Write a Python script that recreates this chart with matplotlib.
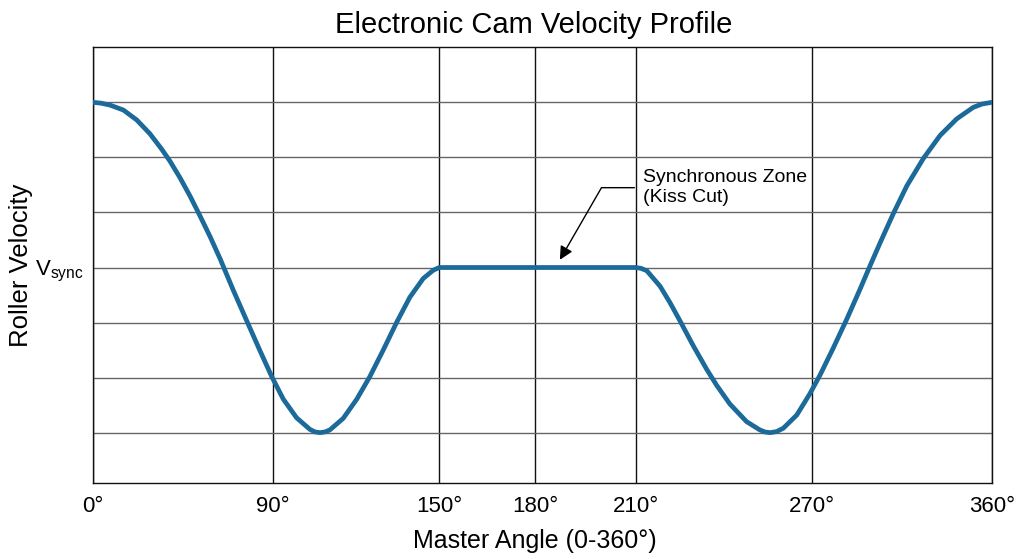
import numpy as np
import matplotlib
matplotlib.use('Agg')
import matplotlib.pyplot as plt

plt.rcParams['font.family'] = ['Liberation Sans', 'DejaVu Sans']
plt.rcParams['mathtext.fontset'] = 'custom'
plt.rcParams['mathtext.rm'] = 'Liberation Sans'

# curve (degrees, velocity in grid steps, Vsync = 3)
master_angle = [0, 3.9, 8.4, 15.1, 21.8, 28.4, 34.3, 38.5, 43.5, 48.5,
                53.5, 58.6, 63.6, 70.2, 77.0, 83.6, 89.5, 93.8, 98.6, 103.4,
                105.2, 107.0, 108.8, 110.6, 115.4, 120.3, 125.0, 129.8, 134.6, 139.4,
                144.2, 147.8, 150, 180, 210, 211.8, 213.8, 218.3, 221.7, 225.1, 229.6,
                234.2, 237.6, 242.1, 247.8, 252.3, 254.1, 255.8, 258.0, 260.3, 264.9,
                269.4, 274.2, 280.8, 287.5, 294.2, 298.3, 304.2, 310.8, 317.5, 325.8,
                334.2, 342.5, 350.8, 355.2, 360]
roller_velocity = [6.0, 5.985, 5.95, 5.86, 5.68, 5.43, 5.15, 4.93, 4.63, 4.30,
                   3.94, 3.56, 3.16, 2.59, 2.03, 1.49, 1.02, 0.61, 0.27, 0.06,
                   0.014, 0.0, 0.013, 0.05, 0.26, 0.61, 1.02, 1.50, 2.00, 2.46,
                   2.80, 2.95, 3.0, 3.0, 3.0, 2.985, 2.94, 2.66, 2.36, 2.03, 1.58,
                   1.15, 0.86, 0.52, 0.20, 0.05, 0.012, 0.0, 0.019, 0.08, 0.32,
                   0.71, 1.05, 1.54, 2.06, 2.61, 2.96, 3.45, 3.98, 4.48, 4.98,
                   5.40, 5.70, 5.91, 5.97, 6.0]

tick_deg = [0, 90, 150, 180, 210, 270, 360]
tick_labels = ['0°', '90°', '150°', '180°', '210°', '270°', '360°']
v_sync = 3
grid_levels = [0, 1, 2, 3, 4, 5, 6]

# the reference axis is schematic, not linear in degrees
tick_pos = [0, 179.4, 346.0, 441.7, 542.4, 718.4, 898.4]


def fwd(x):
    return np.interp(x, tick_deg, tick_pos)


def inv(x):
    return np.interp(x, tick_pos, tick_deg)


fig = plt.figure(figsize=(10.24, 5.59), dpi=100)
ax = fig.add_axes([0.0911, 0.1354, 0.8774, 0.78])

ax.set_xscale('function', functions=(fwd, inv))
ax.set_xlim(0, 360)
ax.set_ylim(-0.92, 7)

ax.plot(master_angle, roller_velocity, color='#1b6a9a', lw=3.4,
        solid_joinstyle='round', solid_capstyle='round', zorder=3)

ax.set_xticks(tick_deg)
ax.set_xticklabels(tick_labels, fontsize=16)
ax.set_yticks(grid_levels)
ax.set_yticklabels([r'$\mathregular{V_{sync}}$' if g == v_sync else '' for g in grid_levels],
                   fontsize=16)
ax.tick_params(axis='both', length=0)
ax.tick_params(axis='x', pad=9)
ax.tick_params(axis='y', pad=7)

ax.grid(axis='x', color='#111111', lw=1.0)
ax.grid(axis='y', color='#666666', lw=1.0)
for s in ax.spines.values():
    s.set_color('#111111')
    s.set_linewidth(1.0)

ax.set_title('Electronic Cam Velocity Profile', fontsize=21, x=0.4905, pad=10)
ax.set_xlabel('Master Angle (0-360°)', fontsize=18)
ax.xaxis.set_label_coords(0.491, -0.105)
ax.set_ylabel('Roller Velocity', fontsize=18.5)
ax.yaxis.set_label_coords(-0.067, 0.5)

ax.annotate('Synchronous Zone\n(Kiss Cut)', xy=(187.4, 3.14), xytext=(212.4, 4.45),
            ha='left', va='center', fontsize=14,
            arrowprops=dict(arrowstyle='-|>', color='black', lw=1.0,
                            connectionstyle='angle,angleA=0,angleB=60,rad=0',
                            relpos=(0, 0.5), shrinkA=4, shrinkB=0, mutation_scale=20))

fig.savefig('out.png', dpi=100)
